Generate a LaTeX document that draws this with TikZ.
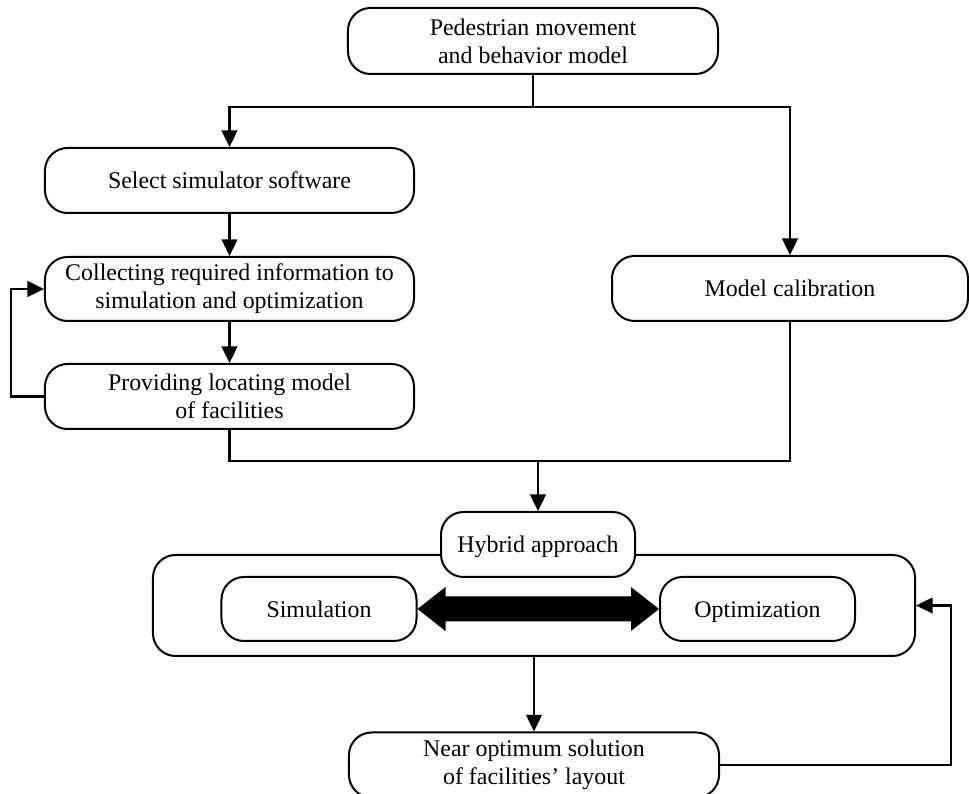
\documentclass[tikz,border=0pt]{standalone}
\usepackage{fontspec}
\setmainfont{Liberation Serif}
\usetikzlibrary{arrows.meta,calc}
\tikzset{
    stepbox/.style={draw, fill=white, rounded corners=4.5mm, line width=0.4mm, align=center,
        inner sep=0pt, font=\fontsize{13.6}{15.9}\selectfont},
    oneline/.style={text height=3.9mm, text depth=0.6mm},
    link/.style={line width=0.5mm, -{Triangle[length=3.3mm,width=3.1mm]}},
    plain/.style={line width=0.5mm}
}

\begin{document}
\begin{tikzpicture}[x=0.2mm,y=-0.2mm]
            \useasboundingbox (0,0) rectangle (969,794);
            \node[stepbox, minimum width=74mm, minimum height=13.2mm] (ped) at (533,41) {Pedestrian movement\\and behavior model};
            \node[stepbox, oneline, minimum width=73.8mm, minimum height=13mm] (sel) at (229.5,180.5) {Select simulator software};
            \node[stepbox, minimum width=73.8mm, minimum height=12.8mm] (col) at (229.5,289) {Collecting required information to\\simulation and optimization};
            \node[stepbox, minimum width=73.8mm, minimum height=13mm] (prov) at (229.5,396.5) {Providing locating model\\of facilities};
            \node[stepbox, oneline, minimum width=71.2mm, minimum height=13mm] (cal) at (790,288.5) {Model calibration};
            \node[stepbox, minimum width=152.4mm, minimum height=20.2mm] (cont) at (534,605.5) {};
            \node[stepbox, oneline, minimum width=38.8mm, minimum height=13mm] (hyb) at (538,544.5) {Hybrid approach};
            \node[stepbox, oneline, minimum width=39mm, minimum height=12.8mm] (sim) at (319,609) {Simulation};
            \node[stepbox, oneline, minimum width=39mm, minimum height=12.8mm] (opt) at (757.5,609) {Optimization};
            \node[stepbox, minimum width=74mm, minimum height=13mm] (near) at (534,765) {Near optimum solution\\of facilities' layout};

            \coordinate (split) at (533,107);
            \coordinate (merge) at (538,461);
            \draw[plain] (ped) -- (split);
            \draw[link] (split) -| (sel);
            \draw[link] (split) -| (cal);
            \draw[link] (sel) -- (col);
            \draw[link] (col) -- (prov);
            \draw[link] (prov.west) -- ++(-33,0) |- (col.west);
            \draw[plain] (prov.south) |- (merge);
            \draw[plain] (cal.south) |- (merge);
            \draw[link] (merge) -- (hyb);
            \draw[link] (cont.south) -- (near);
            \draw[link] (near.east) -- ++(231,0) |- (cont.east);

            \fill (sim.east) -- ($(sim.east)+(28,-22)$) -- ($(sim.east)+(28,-12.5)$)
                -- ($(opt.west)+(-28,-12.5)$) -- ($(opt.west)+(-28,-22)$) -- (opt.west)
                -- ($(opt.west)+(-28,22)$) -- ($(opt.west)+(-28,12.5)$)
                -- ($(sim.east)+(28,12.5)$) -- ($(sim.east)+(28,22)$) -- cycle;
        \end{tikzpicture}
\end{document}
